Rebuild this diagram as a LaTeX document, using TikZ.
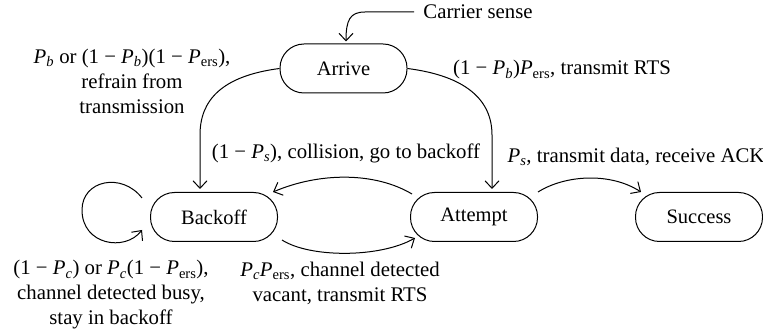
\documentclass[tikz,border=0pt]{standalone}
\usepackage{fontspec}
\setmainfont{Liberation Serif}
\usetikzlibrary{arrows.meta,calc}
\newcommand{\Ps}[1]{\textit{P}\textsubscript{\textit{#1}}}
\newcommand{\Pe}{\textit{P}\textsubscript{ers}}
\begin{document}
\begin{tikzpicture}[x=1pt,y=-1pt,
  state/.style={draw, line width=1pt, rounded corners=24pt, minimum width=127pt, minimum height=49pt, inner sep=0pt, font=\fontsize{20.5}{24}\selectfont},
  lbl/.style={align=center, inner sep=0pt, font=\fontsize{20.8}{25}\selectfont},
  arr/.style={line width=1pt, -{Straight Barb[length=7.5pt,width=14pt,line width=1pt]}}]
\useasboundingbox (0,0) rectangle (763,336);
\node[state] (arrive) at (343.5,68.5) {Arrive};
\node[state] (backoff) at (214,217) {Backoff};
\node[state] (attempt) at (474,217) {Attempt};
\node[state] (success) at (699,217) {Success};
\node[lbl] (cs) at (478,12) {Carrier sense};
\node[lbl] (l1) at (132,81) {\Ps{b} or (1 − \Ps{b})(1 − \Pe),\\ refrain from\\ transmission};
\node[lbl] (l2) at (562,70) {(1 − \Ps{b})\Pe, transmit RTS};
\node[lbl] (l3) at (346,153) {(1 − \Ps{s}), collision, go to backoff};
\node[lbl] (l4) at (636,157) {\Ps{s}, transmit data, receive ACK};
\node[lbl] (l5) at (111,295) {(1 − \Ps{c}) or \Ps{c}(1 − \Pe),\\ channel detected busy,\\ stay in backoff};
\node[lbl] (l6) at (340,283) {\Ps{c}\Pe, channel detected\\ vacant, transmit RTS};
% carrier sense
\coordinate (csbend) at (365,12);
\draw[arr] ([xshift=-9pt]cs.west) -- (csbend) .. controls (350,12) and (346,20) .. ([xshift=2.5pt,yshift=2pt]arrive.north);
% arrive -> backoff
\coordinate (ab) at (200,135);
\draw[arr] (arrive.west) .. controls (222,76) and (200,100) .. (ab) -- ([xshift=-14pt,yshift=3pt]backoff.north);
% arrive -> attempt
\coordinate (at) at (492,135);
\draw[arr] (arrive.east) .. controls (466,76) and (492,100) .. (at) -- ([xshift=18pt,yshift=3pt]attempt.north);
% attempt -> backoff
\draw[arr] ([xshift=2pt,yshift=-2pt]attempt.north west) .. controls (375,172) and (320,172) .. ([xshift=-5pt,yshift=0pt]backoff.north east);
% backoff -> attempt
\draw[arr] ([xshift=4pt,yshift=2pt]backoff.south east) .. controls (310,258) and (380,258) .. ([xshift=5pt,yshift=4pt]attempt.south west);
% attempt -> success
\draw[arr] (attempt.north east) .. controls (565,175) and (610,172) .. ([xshift=6pt,yshift=0pt]success.north west);
% self loop
\coordinate (ls) at ($(backoff.west)+(-8,-19)$);
\coordinate (le) at ($(backoff.west)+(-8,13)$);
\draw[arr] (ls) .. controls (122,172) and (82,180) .. (82,210) .. controls (82,245) and (125,252) .. (le);
\end{tikzpicture}
\end{document}
